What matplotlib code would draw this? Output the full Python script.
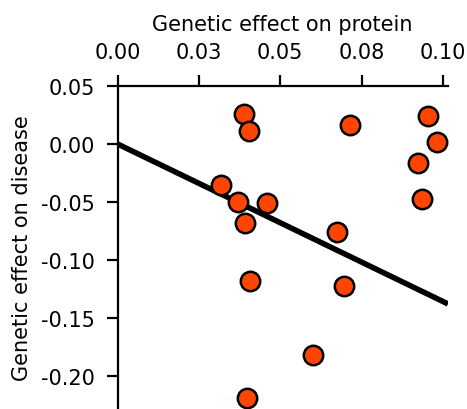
import matplotlib
matplotlib.use('Agg')
import matplotlib.pyplot as plt
import numpy as np

# per-variant effects
beta_protein = [0.0389, 0.0405, 0.0714, 0.0954, 0.0982, 0.0924, 0.0935, 0.0371,
                0.0460, 0.0392, 0.0674, 0.0407, 0.0696, 0.0601, 0.0399, 0.0317]
beta_disease = [0.0256, 0.0110, 0.0161, 0.0242, 0.0015, -0.0167, -0.0477, -0.0503,
                -0.0507, -0.0684, -0.0759, -0.1186, -0.1225, -0.1821, -0.2195, -0.0354]
SLOPE = -1.36
X_TICKS = [0.0, 0.025, 0.05, 0.075, 0.1]
X_TICK_LABELS = ['0.00', '0.03', '0.05', '0.08', '0.10']
Y_TICKS = [0.05, 0.0, -0.05, -0.10, -0.15, -0.20]
Y_TICK_LABELS = ['0.05', '0.00', '-0.05', '-0.10', '-0.15', '-0.20']

plt.rcParams['axes.unicode_minus'] = False
plt.rcParams['font.family'] = 'DejaVu Sans'

W, H = 467, 410
fig = plt.figure(figsize=(W/100, H/100), dpi=100)
ax = fig.add_axes([117.5/W, 0, (448-117.5)/W, 323/H])

xlim = (0, 0.1015)
xs = np.array(xlim)
ax.plot(xs, SLOPE*xs, color='black', linewidth=4.0, solid_capstyle='butt', zorder=2)
ax.scatter(beta_protein, beta_disease, s=195, color='#ff4500', edgecolor='black',
           linewidth=1.8, zorder=3, clip_on=False)

ax.set_xlim(*xlim)
ax.set_ylim(-0.2287, 0.05)
ax.xaxis.tick_top()
ax.xaxis.set_label_position('top')
ax.set_xticks(X_TICKS)
ax.set_xticklabels(X_TICK_LABELS)
ax.set_yticks(Y_TICKS)
ax.set_yticklabels(Y_TICK_LABELS)
ax.set_xlabel('Genetic effect on protein', fontsize=15, labelpad=9)
ax.set_ylabel('Genetic effect on disease', fontsize=15, labelpad=7)
ax.tick_params(axis='x', pad=9)
ax.tick_params(axis='y', pad=8)
ax.tick_params(axis='both', labelsize=15, width=1.6, length=8, direction='out')
for side in ('right', 'bottom'):
    ax.spines[side].set_visible(False)
for side in ('top', 'left'):
    ax.spines[side].set_linewidth(1.6)

fig.savefig('out.png', dpi=100)
